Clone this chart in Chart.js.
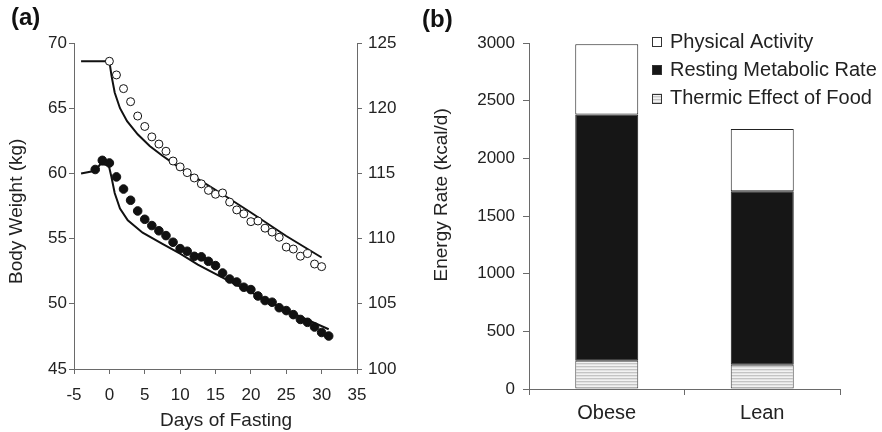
<!DOCTYPE html>
<html><head><meta charset="utf-8">
<script src="https://cdn.jsdelivr.net/npm/chart.js@4.4.1/dist/chart.umd.min.js"></script>
<style>
html,body{margin:0;padding:0;background:#fff;width:882px;height:432px;overflow:hidden;font-family:"Liberation Sans",Arial,sans-serif;}
canvas{position:absolute;top:0;}
#ca{left:0;}
#cb{left:420px;}
.lab{position:absolute;font-weight:bold;font-size:24px;line-height:1;color:#111;}
</style></head><body>
<canvas id="ca" width="420" height="432"></canvas>
<canvas id="cb" width="462" height="432"></canvas>
<div class="lab" style="left:11px;top:5px">(a)</div>
<div class="lab" style="left:422px;top:7px">(b)</div>
<script>
// ---------- Panel (a) data ----------
const openDays = [0,1,2,3,4,5,6,7,8,9,10,11,12,13,14,15,16,17,18,19,20,21,22,23,24,25,26,27,28,29,30];
const openWeight = [123.6,122.55,121.5,120.5,119.4,118.6,117.8,117.25,116.7,115.95,115.5,115.06,114.65,114.2,113.7,113.4,113.5,112.8,112.2,111.9,111.3,111.35,110.8,110.5,110.1,109.35,109.2,108.65,108.85,108.05,107.85];
const filledDays = [-2,-1,0,1,2,3,4,5,6,7,8,9,10,11,12,13,14,15,16,17,18,19,20,21,22,23,24,25,26,27,28,29,30,31];
const filledWeight = [60.3,61.0,60.8,59.73,58.8,57.94,57.12,56.48,56.0,55.6,55.23,54.72,54.23,54.03,53.64,53.6,53.26,52.93,52.36,51.9,51.67,51.27,51.09,50.6,50.25,50.12,49.7,49.48,49.17,48.8,48.58,48.22,47.8,47.53];
const openModelDays = [-4,0,0.3,0.75,1.5,2.5,4,5.7,7.5,10,13,16,20,25,30];
const openModelWeight = [123.6,123.6,122.5,121.2,120.0,119.0,118.0,117.1,116.35,115.4,114.4,113.4,112.0,110.2,108.55];
const filledModelDays = [-4,-2,-1.3,-0.1,0.3,0.75,1.5,2.6,4.7,7.5,10,12.5,16,20,25,31];
const filledModelWeight = [60.0,60.2,60.7,60.65,59.7,58.5,57.3,56.4,55.45,54.6,53.85,53.0,52.0,50.9,49.5,48.05];
const xTicks = [-5,0,5,10,15,20,25,30,35];
const leftTicks = [45,50,55,60,65,70];
const rightTicks = [100,105,110,115,120,125];

// ---------- Panel (b) data ----------
const categories = ['Obese','Lean'];
const tefValues = [245, 210];
const rmrValues = [2135, 1505];
const paValues = [610, 540];
const seriesNames = ['Thermic Effect of Food','Resting Metabolic Rate','Physical Activity'];
const energyTicks = [0,500,1000,1500,2000,2500,3000];

const pts = (xs, ys) => xs.map((x,i)=>({x:x, y:ys[i]}));
const plain = v => String(v);

Chart.defaults.font.family = '"Liberation Sans", Arial, sans-serif';
Chart.defaults.color = '#222';

const AX = '#6a6a6a';
const TICKFONT = 17;

new Chart(document.getElementById('ca'), {
  type: 'scatter',
  data: { datasets: [
    { data: pts(openDays, openWeight), yAxisID:'y1', pointRadius:4, pointBorderWidth:1,
      backgroundColor:'#fff', borderColor:'#111' },
    { data: pts(filledDays, filledWeight), yAxisID:'y', pointRadius:4.3, pointBorderWidth:1,
      backgroundColor:'#111', borderColor:'#111' },
    { data: pts(openModelDays, openModelWeight), yAxisID:'y1', showLine:true, pointRadius:0,
      borderColor:'#111', borderWidth:2, tension:0 },
    { data: pts(filledModelDays, filledModelWeight), yAxisID:'y', showLine:true, pointRadius:0,
      borderColor:'#111', borderWidth:2, tension:0 }
  ]},
  options: {
    responsive:false, animation:false,
    layout:{ padding:{left:0, top:43, right:0, bottom:0} },
    plugins:{ legend:{display:false}, tooltip:{enabled:false} },
    scales:{
      x:{ type:'linear', min:-5, max:35,
        afterBuildTicks: s => { s.ticks = xTicks.map(v=>({value:v})); },
        ticks:{ font:{size:TICKFONT}, padding:11, color:'#222', callback: plain },
        grid:{ drawOnChartArea:false, drawTicks:true, tickLength:5, color:AX },
        border:{ color:AX, width:1 },
        title:{ display:true, text:'    Days of Fasting', font:{size:19}, color:'#222', padding:{top:0,bottom:0} },
        afterFit: s => { s.height = 63; } },
      y:{ position:'left', min:45, max:70,
        afterBuildTicks: s => { s.ticks = leftTicks.map(v=>({value:v})); },
        ticks:{ font:{size:TICKFONT}, padding:2, color:'#222', callback: plain },
        grid:{ drawOnChartArea:false, drawTicks:true, tickLength:5, color:AX },
        border:{ color:AX, width:1 },
        title:{ display:true, text:'Body Weight (kg)  ', font:{size:19}, color:'#222', padding:{top:5,bottom:0} },
        afterFit: s => { s.width = 74; } },
      y1:{ position:'right', min:100, max:125,
        afterBuildTicks: s => { s.ticks = rightTicks.map(v=>({value:v})); },
        ticks:{ font:{size:TICKFONT}, padding:6, color:'#222', callback: plain },
        grid:{ drawOnChartArea:false, drawTicks:true, tickLength:5, color:AX },
        border:{ color:AX, width:1 },
        afterFit: s => { s.width = 63; } }
    }
  }
});

// striped pattern for Thermic Effect of Food
function stripePattern(){
  const c = document.createElement('canvas');
  c.width = 4; c.height = 3;
  const g = c.getContext('2d');
  g.fillStyle = '#c4c4c4'; g.fillRect(0,0,4,1);
  g.fillStyle = '#e2e2e2'; g.fillRect(0,1,4,1);
  g.fillStyle = '#f2f2f2'; g.fillRect(0,2,4,1);
  return g.createPattern(c,'repeat');
}
const stripes = stripePattern();

const sideLegend = {
  id:'sideLegend',
  afterDraw(chart, args, opts){
    const ctx = chart.ctx;
    const ds = chart.data.datasets;
    ctx.save();
    ctx.font = opts.fontSize + 'px "Liberation Sans", Arial, sans-serif';
    ctx.textBaseline = 'middle';
    ctx.textAlign = 'left';
    opts.order.forEach((idx,row)=>{
      const d = ds[idx];
      const y = opts.rows[row];
      const bx = opts.boxX, bs = opts.boxSize;
      ctx.fillStyle = d.backgroundColor;
      ctx.fillRect(bx, y - bs/2, bs, bs);
      ctx.strokeStyle = '#333';
      ctx.lineWidth = 1;
      ctx.strokeRect(bx+0.5, Math.round(y - bs/2)+0.5, bs-1, bs-1);
      ctx.fillStyle = '#222';
      ctx.fillText(d.label, opts.textX, y);
    });
    ctx.restore();
  }
};

new Chart(document.getElementById('cb'), {
  type:'bar',
  data:{ labels: categories, datasets:[
    { label: seriesNames[0], data: tefValues, backgroundColor: stripes, borderColor:'#444', borderWidth:1, borderSkipped:false },
    { label: seriesNames[1], data: rmrValues, backgroundColor:'#161616', borderColor:'#161616', borderWidth:1, borderSkipped:false },
    { label: seriesNames[2], data: paValues, backgroundColor:'#ffffff', borderColor:'#222', borderWidth:1, borderSkipped:false }
  ]},
  options:{
    responsive:false, animation:false,
    datasets:{ bar:{ categoryPercentage:1, barPercentage:0.405 } },
    layout:{ padding:{left:0, top:43, right:42, bottom:0} },
    plugins:{ legend:{display:false}, tooltip:{enabled:false},
      sideLegend:{ order:[2,1,0], rows:[42,70,98.5], boxX:232, boxSize:10, textX:250, fontSize:20 } },
    scales:{
      x:{ stacked:true,
        ticks:{ font:{size:20}, padding:6, color:'#222' },
        grid:{ offset:true, drawOnChartArea:false, drawTicks:true, tickLength:6, color:AX },
        border:{ color:AX, width:1 },
        afterFit: s => { s.height = 43; } },
      y:{ stacked:true, min:0, max:3000,
        afterBuildTicks: s => { s.ticks = energyTicks.map(v=>({value:v})); },
        ticks:{ font:{size:TICKFONT}, padding:8, color:'#222', callback: plain },
        grid:{ drawOnChartArea:false, drawTicks:true, tickLength:6, color:AX },
        border:{ color:AX, width:1 },
        title:{ display:true, text:'        Energy Rate (kcal/d)', font:{size:19}, color:'#222', padding:{top:10,bottom:0} },
        afterFit: s => { s.width = 109; } }
    }
  },
  plugins:[sideLegend]
});
</script>
</body></html>
